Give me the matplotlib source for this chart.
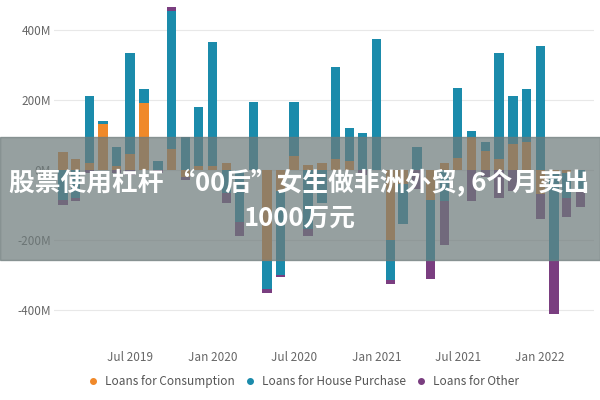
import numpy as np
import pandas as pd
import matplotlib.pyplot as plt
import matplotlib.dates as mdates
from matplotlib.patches import Rectangle
from matplotlib.lines import Line2D

plt.rcParams['font.family'] = ['Noto Sans CJK SC', 'DejaVu Sans']

months = pd.date_range('2019-02-01', '2022-04-01', freq='MS')
consumption = [50, 30, 20, 130, 10, 45, 190, 0, 60, -20, 10, 10, 20, 0, 0, -260, -60, 40,
               15, 20, 30, 25, 0, 0, -200, -40, 0, -85, 20, 35, 95, 55, 30, 75, 80, -70, -10, -10, 0]
house = [-85, -80, 190, 10, 55, 290, 40, 25, 395, 95, 170, 355, -65, -150, 195, -80, -240, 155,
         -170, -95, 265, 95, 105, 375, -115, -115, 65, -175, -90, 200, 15, 25, 305, 135, 150, 355, -250, -70, -60]
other = [-15, -8, -10, 0, -10, -15, 0, -10, 10, -10, 0, 0, -30, -40, 0, -10, -5, 0,
         -20, 0, 0, 0, -15, 0, -10, 0, -55, -50, -125, 0, -90, -20, -80, -60, -5, -70, -150, -55, -45]

colors = {'Loans for Consumption': '#f0892a', 'Loans for House Purchase': '#1b8bab', 'Loans for Other': '#7a3e80'}
series = {'Loans for Consumption': consumption, 'Loans for House Purchase': house, 'Loans for Other': other}

fig = plt.figure(figsize=(6, 4), dpi=100)
ax = fig.add_axes([0.09, 0.175, 0.9, 0.8125])

x = mdates.date2num(months)
pos_base = np.zeros(len(x))
neg_base = np.zeros(len(x))
for name, vals in series.items():
    v = np.array(vals, dtype=float)
    bottom = np.where(v >= 0, pos_base, neg_base)
    ax.bar(x, v, bottom=bottom, width=21, color=colors[name], zorder=2)
    pos_base += np.where(v >= 0, v, 0)
    neg_base += np.where(v < 0, v, 0)

ax.set_ylim(-457, 471)
ax.set_yticks([-400, -200, 0, 200, 400])
ax.set_yticklabels(['-400M', '-200M', '0M', '200M', '400M'], fontsize=8.5, color='#666666')
ax.grid(axis='y', color='#e8e8e8', lw=0.8, zorder=0)
ax.xaxis.set_major_locator(mdates.MonthLocator(bymonth=[1, 7]))
ax.xaxis.set_major_formatter(mdates.DateFormatter('%b %Y'))
ax.set_xlim(mdates.date2num(pd.Timestamp('2019-01-12')), mdates.date2num(pd.Timestamp('2022-05-01')))
ax.tick_params(axis='x', labelsize=8.5, colors='#666666', length=0, pad=15)
ax.tick_params(axis='y', length=0, pad=2)
for s in ax.spines.values():
    s.set_visible(False)

handles = [Line2D([], [], marker='o', ls='', color=c, markersize=4) for c in colors.values()]
fig.legend(handles, list(colors.keys()), loc='center', bbox_to_anchor=(0.5, 0.047), ncol=3,
           frameon=False, fontsize=8.5, handletextpad=0.0, columnspacing=0.3, labelcolor='#555555')

fig.patches.append(Rectangle((0, 0.35), 1, 0.307, transform=fig.transFigure,
                             color='#6e7b7b', alpha=0.72, zorder=5))
fig.text(0.015, 0.543, '股票使用杠杆 “00后”女生做非洲外贸, 6个月卖出', fontsize=18.5, color='white',
         fontweight='bold', va='center', zorder=6)
fig.text(0.5, 0.455, '1000万元', fontsize=18.5, color='white', fontweight='bold', va='center', ha='center', zorder=6)

fig.savefig('out.png')
